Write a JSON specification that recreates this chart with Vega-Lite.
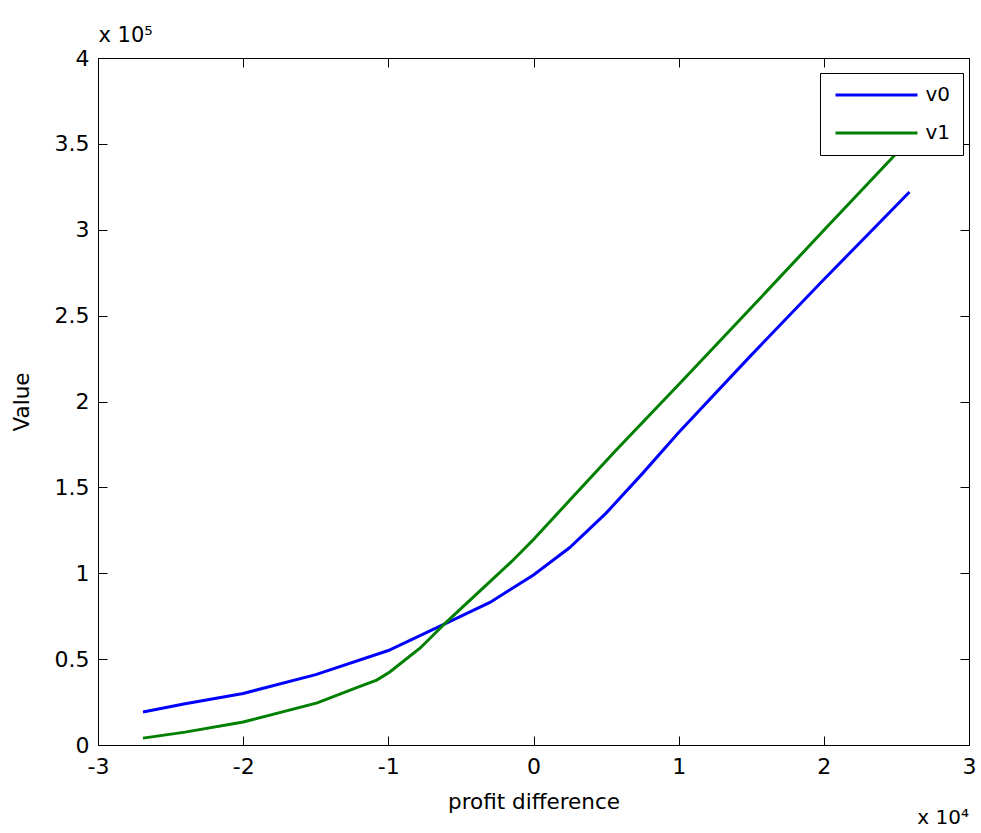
{
  "$schema": "https://vega.github.io/schema/vega-lite/v6.json",
  "width": 871,
  "height": 687,
  "autosize": {"type": "none"},
  "padding": {"left": 98, "top": 58, "right": 12, "bottom": 88},
  "background": "white",
  "title": {"text": "x 10⁴", "orient": "bottom", "anchor": "end", "align": "right", "frame": "group", "fontSize": 20, "font": "DejaVu Sans", "fontWeight": "normal", "color": "black", "offset": -5},
  "data": {"values": [
    {"series": "v0", "x": -26900, "y": 19200},
    {"series": "v0", "x": -24000, "y": 24000},
    {"series": "v0", "x": -20000, "y": 30000},
    {"series": "v0", "x": -15000, "y": 41000},
    {"series": "v0", "x": -10000, "y": 55000},
    {"series": "v0", "x": -6000, "y": 71000},
    {"series": "v0", "x": -3000, "y": 83000},
    {"series": "v0", "x": 0, "y": 99000},
    {"series": "v0", "x": 2500, "y": 115000},
    {"series": "v0", "x": 5000, "y": 135000},
    {"series": "v0", "x": 7500, "y": 158000},
    {"series": "v0", "x": 10000, "y": 182000},
    {"series": "v0", "x": 15000, "y": 227000},
    {"series": "v0", "x": 20000, "y": 271000},
    {"series": "v0", "x": 25900, "y": 322000},
    {"series": "v1", "x": -26900, "y": 4000},
    {"series": "v1", "x": -24000, "y": 7500},
    {"series": "v1", "x": -20000, "y": 13400},
    {"series": "v1", "x": -14900, "y": 24500},
    {"series": "v1", "x": -12000, "y": 34000},
    {"series": "v1", "x": -10800, "y": 37800},
    {"series": "v1", "x": -9900, "y": 42500},
    {"series": "v1", "x": -7800, "y": 56500},
    {"series": "v1", "x": -6000, "y": 71600},
    {"series": "v1", "x": -3000, "y": 95100},
    {"series": "v1", "x": -1400, "y": 107700},
    {"series": "v1", "x": 0, "y": 119600},
    {"series": "v1", "x": 2700, "y": 144400},
    {"series": "v1", "x": 5700, "y": 171800},
    {"series": "v1", "x": 10300, "y": 212500},
    {"series": "v1", "x": 15600, "y": 260000},
    {"series": "v1", "x": 20000, "y": 299700},
    {"series": "v1", "x": 24700, "y": 341800},
    {"series": "v1", "x": 25900, "y": 353000}
  ]},
  "layer": [
    {
      "transform": [{"filter": "datum.series === 'v0'"}],
      "mark": {"type": "line", "strokeWidth": 3},
      "encoding": {
        "x": {"field": "x", "type": "quantitative",
          "scale": {"domain": [-30000, 30000], "nice": false, "zero": false},
          "axis": {"orient": "bottom", "title": "profit difference",
            "values": [-30000, -20000, -10000, 0, 10000, 20000, 30000],
            "labelExpr": "'' + (datum.value / 10000)",
            "tickSize": -9, "labelPadding": 20, "titlePadding": 14,
            "labelFlush": false, "labelOverlap": false, "grid": false}},
        "y": {"field": "y", "type": "quantitative",
          "scale": {"domain": [0, 400000], "nice": false},
          "axis": {"orient": "left", "title": "Value",
            "values": [0, 50000, 100000, 150000, 200000, 250000, 300000, 350000, 400000],
            "labelExpr": "'' + (datum.value / 100000)",
            "tickSize": -9, "labelPadding": 18, "titlePadding": 21,
            "labelFlush": false, "labelOverlap": false, "grid": false}},
        "color": {"field": "series", "type": "nominal",
          "scale": {"domain": ["v0", "v1"], "range": ["#0000ff", "#008000"]},
          "legend": {"orient": "none", "legendX": 722, "legendY": 15, "title": null,
            "symbolType": "M-8.2,0L8.2,0", "symbolSize": 100, "symbolStrokeWidth": 3,
            "symbolOffset": 34.5,
            "fillColor": "white", "strokeColor": "black", "padding": 12, "rowPadding": 18,
            "labelFontSize": 20, "labelFont": "DejaVu Sans", "labelColor": "black", "labelOffset": 39}}
      }
    },
    {
      "transform": [{"filter": "datum.series === 'v1'"}],
      "mark": {"type": "line", "strokeWidth": 3},
      "encoding": {
        "x": {"field": "x", "type": "quantitative",
          "scale": {"domain": [-30000, 30000], "nice": false, "zero": false},
          "axis": {"orient": "top", "title": "x 10⁵", "titleAnchor": "start", "titleAlign": "left",
            "titlePadding": 12, "titleFontSize": 21, "labels": false,
            "values": [-30000, -20000, -10000, 0, 10000, 20000, 30000],
            "tickSize": -9, "grid": false}},
        "y": {"field": "y", "type": "quantitative",
          "scale": {"domain": [0, 400000], "nice": false},
          "axis": {"orient": "right", "title": null, "labels": false,
            "values": [0, 50000, 100000, 150000, 200000, 250000, 300000, 350000, 400000],
            "tickSize": -9, "grid": false}},
        "color": {"field": "series", "type": "nominal",
          "scale": {"domain": ["v0", "v1"], "range": ["#0000ff", "#008000"]}}
      }
    }
  ],
  "resolve": {"axis": {"x": "independent", "y": "independent"}},
  "config": {
    "view": {"stroke": null},
    "axis": {
      "domainColor": "black", "domainWidth": 1, "tickColor": "black", "tickWidth": 1,
      "labelColor": "black", "titleColor": "black",
      "labelFont": "DejaVu Sans", "labelFontSize": 22,
      "titleFont": "DejaVu Sans", "titleFontSize": 21.5, "titleFontWeight": "normal"
    }
  }
}
